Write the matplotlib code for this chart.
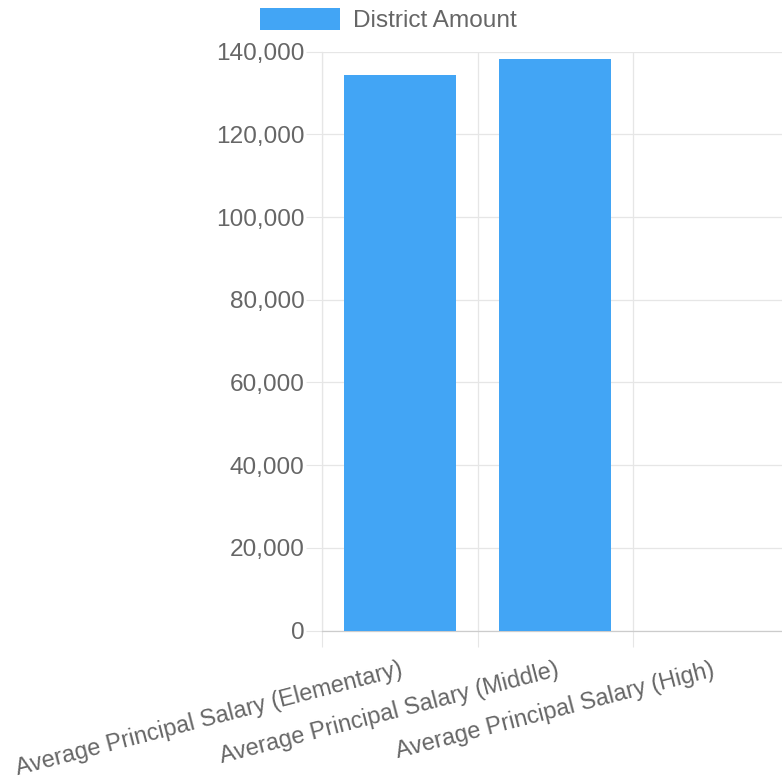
import numpy as np
import matplotlib
matplotlib.use("Agg")
import matplotlib.pyplot as plt
from matplotlib.ticker import FuncFormatter, FixedLocator

# ── Datos ─────────────────────────────────────────────────────────────────────
categories = [
    "Average Principal Salary (Elementary)",
    "Average Principal Salary (Middle)",
    "Average Principal Salary (High)",
]
district_amount = [134300, 138300, 0]
series_label = "District Amount"
y_ticks = [0, 20000, 40000, 60000, 80000, 100000, 120000, 140000]

# ── Estilo ────────────────────────────────────────────────────────────────────
COLORS = {
    "bar"  : "#42A5F5",
    "text" : "#666666",
    "grid" : "#e6e6e6",
    "axis" : "#cccccc",
}
plt.rcParams["font.family"] = ["Liberation Sans", "DejaVu Sans"]
FS = 17.6
FS_X = 16.9
W = H = 782

fig = plt.figure(figsize=(7.82, 7.82), dpi=100)
ax = fig.add_axes([322 / W, 1 - 630.5 / H, (788.5 - 322) / W, (630.5 - 51.7) / H])

x = np.arange(len(categories))
ax.bar(x, district_amount, width=0.72, color=COLORS["bar"], label=series_label, zorder=3)

ax.set_xlim(-0.5, len(categories) - 0.5)
ax.set_ylim(0, 140000)

# eje Y
ax.set_yticks(y_ticks)
ax.yaxis.set_major_formatter(FuncFormatter(lambda v, p: f"{int(v):,}"))
ax.tick_params(axis="y", length=11.5, width=0.8, color=COLORS["grid"], pad=1,
               labelsize=FS, labelcolor=COLORS["text"])
ax.yaxis.grid(True, color=COLORS["grid"], lw=0.9, zorder=0)

# eje X: líneas en los límites de categoría, etiquetas en el centro
ax.set_xticks(x)
ax.set_xticklabels(categories, rotation=14.5, ha="right", va="top",
                   rotation_mode="anchor", fontsize=FS_X, color=COLORS["text"])
ax.tick_params(axis="x", which="major", length=0, pad=20)
ax.xaxis.set_minor_locator(FixedLocator(np.arange(len(categories) + 1) - 0.5))
ax.tick_params(axis="x", which="minor", length=11.5, width=0.8, color=COLORS["grid"])
ax.xaxis.grid(True, which="minor", color=COLORS["grid"], lw=0.9, zorder=0)

for s in ["top", "right"]:
    ax.spines[s].set_visible(False)
ax.spines["left"].set_color(COLORS["grid"])
ax.spines["left"].set_linewidth(0.9)
ax.spines["bottom"].set_color(COLORS["axis"])
ax.spines["bottom"].set_linewidth(0.9)

fig.legend(loc="upper center", bbox_to_anchor=(0.497, 1 - 8 / H), frameon=False,
           fontsize=FS, labelcolor=COLORS["text"], handlelength=3.27,
           handleheight=0.98, handletextpad=0.53, borderpad=0, borderaxespad=0)

fig.savefig("out.png", dpi=100)
plt.close(fig)
